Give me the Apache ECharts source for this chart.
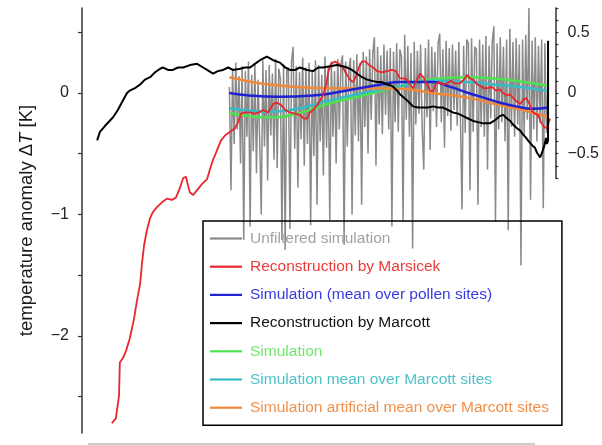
<!DOCTYPE html>
<html>
<head>
<meta charset="utf-8">
<script src="https://cdn.jsdelivr.net/npm/echarts@6/dist/echarts.min.js"></script>
<style>
  html, body { margin: 0; padding: 0; background: #fff; }
  #chart { width: 602px; height: 445px; }
</style>
</head>
<body>
<div id="chart"></div>
<script>
// Holocene temperature anomaly: time in ka relative to present (negative = past), values in K

// Unfiltered simulation, regularly sampled from 8 ka ago to present
const simStart = -8.0;
const simStep = 0.04;
const simUnfiltered = [
  0.05, -0.80, 0.20, -0.42, 0.25, -0.30, 0.14, -0.58, 0.22, -1.21,
  0.18, -0.36, 0.26, -1.10, 0.15, -0.48, 0.24, -0.66, 0.11, -0.38,
  -1.00, 0.27, -0.44, 0.19, -0.72, 0.23, -0.35, 0.16, -0.55, 0.28,
  -0.62, 0.20, 0.12, -1.21, 0.24, -1.29, 0.18, 0.21, -1.12, 0.26,
  0.38, -0.46, 0.22, -0.78, 0.17, -0.38, 0.29, -0.60, 0.21, -0.42,
  0.25, -1.09, 0.19, -0.52, 0.27, -0.92, 0.23, -0.40, 0.15, -0.68,
  0.30, -0.45, 0.22, -1.05, 0.26, -0.36, 0.18, -0.58, 0.28, -0.30,
  0.24, 0.31, -1.25, 0.26, -0.44, 0.20, 0.29, -1.00, 0.27, -0.35,
  0.32, -0.40, 0.25, -0.92, 0.34, -0.28, 0.30, -0.50, 0.36, -0.22,
  0.33, 0.46, -0.60, 0.38, -0.26, 0.31, -0.34, 0.40, -0.18, 0.35,
  -0.30, 0.37, -1.10, 0.34, -0.24, 0.41, -0.32, 0.36, 0.30, -1.06,
  0.48, -0.22, 0.39, -0.36, 0.33, -1.28, 0.42, -0.26, 0.35, -0.17,
  0.40, -0.30, -0.63, 0.37, -0.20, 0.44, -0.47, 0.38, -0.15, 0.34,
  -0.28, 0.41, 0.49, -0.24, 0.36, -0.45, 0.43, -0.19, 0.37, -0.31,
  0.40, -0.14, 0.35, -0.27, 0.42, -0.20, -0.96, 0.39, -0.33, 0.44,
  0.41, -0.80, 0.45, -0.32, 0.38, 0.36, -0.92, 0.44, -0.28, 0.40,
  -0.36, 0.47, -0.63, 0.39, -0.21, 0.43, 0.55, -1.06, 0.41, -0.30,
  0.46, -0.24, 0.38, -0.40, 0.44, -1.13, 0.53, -0.28, 0.42, -0.36,
  0.45, -0.26, 0.40, -1.42, 0.44, -0.35, 0.48, -0.22, 0.70, -0.88,
  0.43, -0.30, 0.46, -0.40, 0.39, -0.25, 0.44, -0.95, 0.41, -0.33,
  0.10
];

// Reconstruction by Marsicek (pollen based)
const marsicek = [
  [-10.95,-2.72],[-10.85,-2.68],[-10.77,-2.49],[-10.75,-2.22],[-10.67,-2.18],[-10.60,-2.13],
  [-10.50,-2.02],[-10.40,-1.87],[-10.32,-1.71],[-10.24,-1.57],[-10.19,-1.39],[-10.14,-1.25],
  [-10.07,-1.13],[-9.99,-1.03],[-9.92,-0.98],[-9.82,-0.94],[-9.69,-0.90],[-9.57,-0.87],
  [-9.44,-0.88],[-9.34,-0.86],[-9.24,-0.78],[-9.16,-0.70],[-9.09,-0.69],[-9.04,-0.76],
  [-8.99,-0.82],[-8.91,-0.84],[-8.81,-0.80],[-8.69,-0.75],[-8.56,-0.71],[-8.49,-0.63],
  [-8.41,-0.55],[-8.31,-0.47],[-8.21,-0.39],[-8.11,-0.35],[-7.98,-0.32],[-7.86,-0.29],
  [-7.78,-0.24],[-7.71,-0.17],[-7.61,-0.16],[-7.48,-0.16],[-7.38,-0.17],[-7.26,-0.16],
  [-7.16,-0.14],[-7.03,-0.16],[-6.90,-0.09],[-6.80,-0.08],[-6.70,-0.10],[-6.60,-0.14],
  [-6.48,-0.16],[-6.35,-0.17],[-6.23,-0.18],[-6.13,-0.21],[-6.05,-0.21],[-5.98,-0.16],
  [-5.90,-0.14],[-5.80,-0.10],[-5.72,-0.06],[-5.65,-0.02],[-5.57,0.07],[-5.52,0.17],
  [-5.45,0.24],[-5.35,0.26],[-5.25,0.24],[-5.15,0.21],[-5.05,0.15],[-4.97,0.11],
  [-4.90,0.09],[-4.82,0.14],[-4.75,0.21],[-4.67,0.26],[-4.59,0.26],[-4.49,0.23],
  [-4.39,0.21],[-4.29,0.18],[-4.17,0.17],[-4.04,0.18],[-3.92,0.19],[-3.82,0.18],
  [-3.72,0.12],[-3.62,0.12],[-3.54,0.11],[-3.47,0.07],[-3.39,0.04],[-3.29,0.11],
  [-3.21,0.16],[-3.11,0.12],[-3.04,0.07],[-2.96,0.02],[-2.89,0.01],[-2.81,0.08],
  [-2.74,0.09],[-2.64,0.07],[-2.54,0.08],[-2.44,0.10],[-2.34,0.08],[-2.21,0.08],
  [-2.11,0.11],[-2.03,0.15],[-1.96,0.12],[-1.88,0.11],[-1.78,0.07],[-1.71,0.06],
  [-1.61,0.04],[-1.51,0.04],[-1.41,0.05],[-1.31,0.02],[-1.21,0.03],[-1.13,0.00],
  [-1.03,-0.02],[-0.95,-0.01],[-0.88,-0.04],[-0.78,-0.07],[-0.70,-0.09],[-0.63,-0.06],
  [-0.55,-0.04],[-0.48,-0.08],[-0.40,-0.15],[-0.33,-0.17],[-0.25,-0.18],[-0.18,-0.24],
  [-0.10,-0.28],[-0.03,-0.29],[0.05,-0.21]
];

// Reconstruction by Marcott (global stack)
const marcott = [
  [-11.32,-0.39],[-11.25,-0.32],[-11.12,-0.27],[-10.92,-0.20],[-10.80,-0.14],[-10.67,-0.06],
  [-10.57,0.00],[-10.50,0.02],[-10.37,0.04],[-10.24,0.07],[-10.12,0.11],[-9.99,0.13],
  [-9.87,0.17],[-9.74,0.20],[-9.67,0.21],[-9.54,0.19],[-9.42,0.19],[-9.29,0.21],
  [-9.16,0.21],[-8.99,0.23],[-8.81,0.24],[-8.66,0.21],[-8.56,0.19],[-8.41,0.16],
  [-8.29,0.18],[-8.16,0.19],[-8.03,0.21],[-7.91,0.19],[-7.73,0.20],[-7.61,0.21],
  [-7.48,0.21],[-7.36,0.24],[-7.23,0.27],[-7.06,0.30],[-6.90,0.27],[-6.73,0.25],
  [-6.60,0.21],[-6.48,0.19],[-6.35,0.19],[-6.23,0.21],[-6.05,0.19],[-5.90,0.18],
  [-5.77,0.21],[-5.65,0.21],[-5.47,0.22],[-5.30,0.23],[-5.15,0.22],[-5.05,0.21],
  [-4.92,0.19],[-4.80,0.16],[-4.67,0.13],[-4.54,0.11],[-4.42,0.10],[-4.29,0.09],
  [-4.17,0.09],[-4.04,0.07],[-3.92,0.06],[-3.79,0.02],[-3.72,-0.01],[-3.54,-0.06],
  [-3.39,-0.11],[-3.26,-0.12],[-3.14,-0.12],[-3.01,-0.12],[-2.89,-0.11],[-2.76,-0.12],
  [-2.64,-0.12],[-2.51,-0.14],[-2.39,-0.16],[-2.26,-0.17],[-2.13,-0.19],[-2.01,-0.21],
  [-1.88,-0.23],[-1.76,-0.24],[-1.63,-0.25],[-1.46,-0.25],[-1.36,-0.23],[-1.28,-0.21],
  [-1.21,-0.19],[-1.13,-0.18],[-1.03,-0.21],[-0.95,-0.23],[-0.88,-0.26],[-0.78,-0.29],
  [-0.70,-0.31],[-0.63,-0.34],[-0.55,-0.37],[-0.48,-0.40],[-0.40,-0.43],[-0.33,-0.45],
  [-0.28,-0.49],[-0.20,-0.53],[-0.15,-0.49],[-0.10,-0.44],[-0.05,-0.37],[-0.03,-0.42],
  [0.00,-0.39],[0.00,0.43]
];

// Simulation (mean over pollen sites)
const simPollen = [
  [-8.0,0.00],[-7.5,-0.02],[-6.75,-0.03],[-5.9,-0.02],[-5.05,0.02],[-4.2,0.07],
  [-3.7,0.09],[-2.9,0.09],[-2.45,0.05],[-2.0,0.00],[-1.6,-0.04],[-1.2,-0.08],
  [-0.8,-0.11],[-0.4,-0.13],[0.0,-0.12]
];

// Simulation (global)
const simGlobal = [
  [-8.0,-0.165],[-7.5,-0.19],[-7.0,-0.20],[-6.3,-0.17],[-5.47,-0.085],[-4.64,-0.02],
  [-3.8,0.05],[-2.9,0.115],[-2.03,0.13],[-1.2,0.115],[-0.38,0.08],[0.0,0.06]
];

// Simulation mean over Marcott sites
const simMarcottSites = [
  [-8.0,-0.125],[-7.5,-0.145],[-7.0,-0.155],[-6.3,-0.13],[-5.47,-0.06],[-4.64,0.00],
  [-3.8,0.05],[-2.9,0.10],[-2.03,0.09],[-1.2,0.065],[-0.38,0.035],[0.0,0.015]
];

// Simulation artificial mean over Marcott sites
const simArtificial = [
  [-8.0,0.13],[-7.5,0.095],[-7.0,0.07],[-6.3,0.05],[-5.5,0.04],[-4.6,0.04],
  [-3.7,0.035],[-2.9,0.00],[-2.0,-0.04],[-1.2,-0.10],[-0.4,-0.16],[0.0,-0.20]
];

// Tick positions and labelled values of the two temperature axes
const leftTicks = [-2.5, -2, -1.5, -1, -0.5, 0, 0.5];
const leftLabels = [-2, -1, 0];
const rightTicks = [-0.7, -0.6, -0.5, -0.4, -0.3, -0.2, -0.1, 0, 0.1, 0.2, 0.3, 0.4, 0.5, 0.6, 0.7];
const rightLabels = [-0.5, 0, 0.5];

const names = {
  gray: 'Unfiltered simulation',
  red: 'Reconstruction by Marsicek',
  blue: 'Simulation (mean over pollen sites)',
  black: 'Reconstruction by Marcott',
  green: 'Simulation',
  cyan: 'Simulation mean over Marcott sites',
  orange: 'Simulation artificial mean over Marcott sites'
};
const colors = {
  gray: '#8a8a8a', red: '#e8262c', blue: '#1e22d2', black: '#000000',
  green: '#4fe24f', cyan: '#36bcc4', orange: '#f08a3a'
};
const textColors = {
  gray: '#a2a2a2', red: '#ec3b3b', blue: '#3a3ae0', black: '#111111',
  green: '#6ee86a', cyan: '#4cc2c8', orange: '#f0904a'
};

const FONT = '"Liberation Sans", Arial, Helvetica, sans-serif';
const minus = v => String(v).replace('-', '\u2212');

const grayData = simUnfiltered.map((v, i) => [simStart + i * simStep, v]);

function lineSeries(key, data, width, extra) {
  return Object.assign({
    name: names[key],
    type: 'line',
    data: data,
    symbol: 'none',
    xAxisIndex: 0,
    yAxisIndex: 0,
    lineStyle: { color: colors[key], width: width },
    itemStyle: { color: colors[key] },
    emphasis: { disabled: true },
    animation: false
  }, extra || {});
}

const chart = echarts.init(document.getElementById('chart'), null, { renderer: 'canvas' });

chart.setOption({
  animation: false,
  backgroundColor: '#ffffff',
  textStyle: { fontFamily: FONT },
  grid: [
    { left: 82, top: 8, width: 478, height: 425 },
    { left: 82, top: 8, width: 478, height: 170 }
  ],
  xAxis: [
    { type: 'value', gridIndex: 0, min: -11.7, max: 0.3, show: false },
    { type: 'value', gridIndex: 1, min: -11.7, max: 0.3, show: false }
  ],
  yAxis: [
    {
      type: 'value', gridIndex: 0, position: 'left', min: -2.8, max: 0.7,
      name: '{a|temperature anomaly \u0394}{i|T}{a| [K]}',
      nameLocation: 'middle', nameGap: 46,
      nameTextStyle: {
        rich: {
          a: { fontSize: 18.5, color: '#1a1a1a', fontFamily: FONT },
          i: { fontSize: 18.5, color: '#1a1a1a', fontStyle: 'italic', fontFamily: FONT }
        }
      },
      axisLine: { show: true, onZero: false, lineStyle: { color: '#333', width: 1.5 } },
      axisTick: { show: true, length: 4, customValues: leftTicks, lineStyle: { color: '#333', width: 1.2 } },
      axisLabel: { customValues: leftLabels, margin: 13, fontSize: 16, color: '#222', fontFamily: FONT, formatter: minus },
      splitLine: { show: false }
    },
    {
      type: 'value', gridIndex: 1, position: 'right', min: -0.7, max: 0.7,
      axisLine: { show: true, onZero: false, lineStyle: { color: '#333', width: 1.5 } },
      axisTick: { show: true, length: 3, customValues: rightTicks, lineStyle: { color: '#333', width: 1.2 } },
      axisLabel: { customValues: rightLabels, margin: 12, fontSize: 16, color: '#222', fontFamily: FONT, formatter: minus },
      splitLine: { show: false }
    }
  ],
  legend: {
    orient: 'vertical',
    left: 203, top: 221,
    padding: [9.5, 13, 9.5, 7],
    itemGap: 12.2,
    itemWidth: 32,
    itemHeight: 2.2,
    icon: 'rect',
    borderColor: '#000',
    borderWidth: 1.5,
    backgroundColor: 'transparent',
    selectedMode: false,
    textStyle: { fontSize: 15.5, lineHeight: 16, fontFamily: FONT, padding: [0, 0, 0, 3] },
    data: ['gray', 'red', 'blue', 'black', 'green', 'cyan', 'orange'].map(k => ({
      name: names[k],
      icon: 'rect',
      textStyle: { color: textColors[k] }
    }))
  },
  graphic: [
    {
      type: 'line', silent: true,
      shape: { x1: 88, y1: 444, x2: 535, y2: 444 },
      style: { stroke: '#bdbdbd', lineWidth: 1.5 }
    }
  ],
  series: [
    lineSeries('gray', grayData, 1.5, { z: 1 }),
    lineSeries('green', simGlobal, 2.5, { smooth: true, z: 2 }),
    lineSeries('cyan', simMarcottSites, 2.5, { smooth: true, z: 2 }),
    lineSeries('orange', simArtificial, 2.5, { smooth: true, z: 2 }),
    lineSeries('blue', simPollen, 2.5, { smooth: true, z: 2 }),
    lineSeries('red', marsicek, 1.8, { z: 3 }),
    lineSeries('black', marcott, 2, { z: 4 })
  ]
});
</script>
</body>
</html>
